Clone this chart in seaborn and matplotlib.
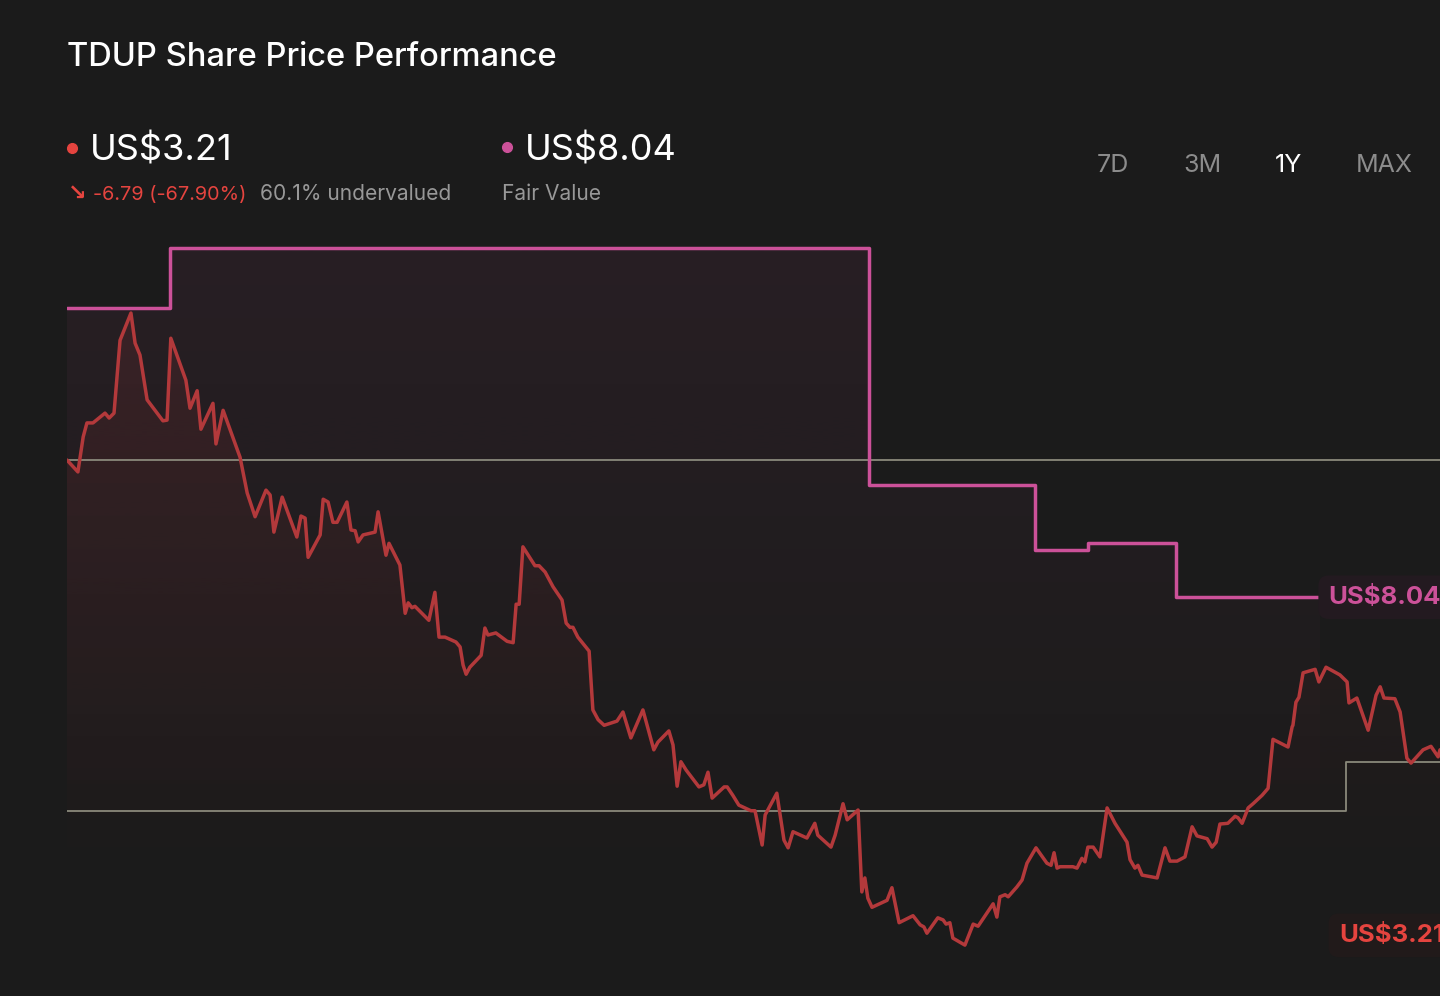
import numpy as np
import matplotlib
matplotlib.use("Agg")
import matplotlib.pyplot as plt
from matplotlib.lines import Line2D
import seaborn as sns
import pandas as pd

# ---------------- data ----------------
days = [0, 2.9, 4.3, 5.3, 6.9, 10.1, 11.2, 12.5, 14.1, 17.0, 18.1, 19.4, 21.3, 25.5, 26.6, 27.6,
        31.6, 32.7, 34.6, 35.6, 38.8, 39.6, 41.5, 46.0, 47.9, 50.0, 52.9, 54.0, 55.0, 57.2, 61.1,
        62.2, 63.3, 64.1, 67.3, 68.1, 69.4, 70.7, 71.8, 74.4, 75.5, 76.6, 77.4, 78.7, 81.9, 82.7,
        84.8, 85.6, 88.5, 89.9, 90.7, 91.7, 92.5, 96.2, 97.8, 98.9, 100.5, 103.4, 104.5, 105.3,
        106.1, 107.1, 110.1, 111.1, 111.9, 114.0, 117.0, 118.6, 119.4, 120.2, 121.2, 124.4, 125.5,
        127.1, 129.2, 131.6, 132.7, 133.7, 134.5, 135.8, 138.8, 139.8, 141.2, 142.8, 146.2, 147.8,
        149.9, 153.1, 156.0, 157.1, 160.0, 161.1, 162.2, 163.2, 164.6, 168.0, 169.3, 170.4, 171.5,
        174.7, 175.5, 177.0, 178.6, 181.8, 182.9, 184.8, 185.6, 188.7, 190.6, 191.7, 193.0, 196.7,
        198.8, 199.6, 203.1, 204.2, 206.3, 207.4, 210.3, 211.3, 212.1, 212.9, 214.0, 218.0, 219.3,
        221.2, 224.9, 226.8, 227.8, 228.6, 231.5, 232.9, 233.7, 234.7, 235.5, 238.7, 240.9, 242.2,
        246.2, 247.2, 248.0, 249.4, 250.2, 252.5, 253.9, 255.2, 257.6, 260.5, 261.6, 262.4, 263.2,
        264.0, 267.4, 268.5, 269.8, 270.6, 271.4, 272.8, 274.6, 276.5, 278.6, 281.8, 282.6, 283.9,
        284.7, 285.8, 289.8, 291.9, 293.2, 295.1, 297.2, 299.1, 300.4, 303.1, 304.4, 305.5, 306.5,
        308.6, 310.5, 311.3, 312.4, 314.0, 315.3, 317.7, 319.3, 320.6, 324.6, 325.7, 325.9, 326.7,
        327.5, 328.6, 331.8, 332.8, 334.7, 338.4, 340.3, 340.8, 342.9, 345.9, 348.0, 349.1, 350.1,
        353.0, 354.4, 356.2, 357.3, 360.5, 362.6, 364.5, 365.0]
price = [10.00, 9.83, 10.33, 10.53, 10.53, 10.67, 10.60, 10.67, 11.71, 12.10, 11.67, 11.50, 10.86,
         10.56, 10.57, 11.74, 11.14, 10.74, 10.99, 10.44, 10.81, 10.23, 10.71, 10.04, 9.53, 9.19,
         9.57, 9.50, 8.97, 9.47, 8.90, 9.20, 9.17, 8.61, 8.93, 9.44, 9.40, 9.11, 9.11, 9.40, 9.00,
         8.99, 8.83, 8.93, 8.97, 9.26, 8.64, 8.81, 8.50, 7.81, 7.96, 7.89, 7.91, 7.71, 8.11, 7.47,
         7.47, 7.40, 7.33, 7.07, 6.94, 7.04, 7.21, 7.60, 7.50, 7.53, 7.41, 7.39, 7.94, 7.94, 8.76,
         8.49, 8.49, 8.40, 8.19, 8.00, 7.67, 7.61, 7.61, 7.47, 7.27, 6.43, 6.29, 6.21, 6.27, 6.40,
         6.03, 6.43, 5.86, 5.97, 6.13, 5.93, 5.34, 5.69, 5.57, 5.33, 5.36, 5.54, 5.17, 5.33, 5.33,
         5.21, 5.07, 4.99, 4.99, 4.50, 4.93, 5.24, 4.57, 4.46, 4.69, 4.60, 4.81, 4.64, 4.47, 4.64,
         5.09, 4.86, 5.00, 3.83, 4.03, 3.74, 3.61, 3.71, 3.89, 3.39, 3.49, 3.36, 3.33, 3.24, 3.46,
         3.43, 3.37, 3.39, 3.17, 3.07, 3.37, 3.34, 3.66, 3.47, 3.76, 3.79, 3.76, 3.90, 4.00, 4.24,
         4.46, 4.24, 4.21, 4.39, 4.17, 4.19, 4.19, 4.17, 4.31, 4.26, 4.47, 4.47, 4.33, 5.03, 4.81,
         4.54, 4.29, 4.17, 4.21, 4.07, 4.03, 4.46, 4.27, 4.27, 4.33, 4.76, 4.63, 4.59, 4.47, 4.54,
         4.80, 4.81, 4.91, 4.89, 4.81, 5.03, 5.09, 5.21, 5.31, 6.01, 5.90, 6.19, 6.21, 6.54, 6.61,
         6.96, 7.01, 6.83, 7.04, 6.93, 6.83, 6.53, 6.60, 6.14, 6.64, 6.76, 6.60, 6.59, 6.40, 5.74,
         5.67, 5.86, 5.91, 5.76, 5.86]

fv_days = [0, 27.4, 213.2, 257.3, 271.4, 294.8, 333.1]
fv_values = [12.17, 13.03, 9.64, 8.71, 8.81, 8.04, 8.04]

upper_ref_days = [0, 365]
upper_ref = [10.00, 10.00]
lower_ref_days = [0, 339.9, 365]
lower_ref = [4.99, 5.69, 5.69]

ticker = "TDUP"
last_price = 3.21
fair_value = 8.04
change = -6.79
change_pct = -67.90
undervalued_pct = 60.1
periods = ["7D", "3M", "1Y", "MAX"]
active_period = "1Y"

# ---------------- style ----------------
BG = "#1b1b1b"
RED_LINE = "#b3393b"
RED_TEXT = "#e5443f"
PINK = "#cc5199"
GRAY_LINE = "#8a897b"
GRAY_TEXT = "#989898"

sns.set_theme(style="dark", rc={"axes.facecolor": BG, "figure.facecolor": BG})
plt.rcParams["font.family"] = ["Inter", "DejaVu Sans"]

W, H = 1440, 996
fig = plt.figure(figsize=(W / 100, H / 100), dpi=100)
fig.patch.set_facecolor(BG)

def fx(px):
    return px / W

def fy(py):
    return 1 - py / H

# axes: from x=67px to right edge, from y=220px to bottom
ax = fig.add_axes([fx(67), 0, 1 - fx(67), fy(220)])
ax.set_facecolor("none")
YLO, YHI = 2.343, 13.429
ax.set_xlim(0, 365)
ax.set_ylim(YLO, YHI)
ax.axis("off")

df = pd.DataFrame({"day": days, "price": price})
fv = pd.DataFrame({"day": fv_days, "fv": fv_values})

# gradient fills
def gradient_under(coll, color, a_top, v_top, v_bot, z):
    rgb = matplotlib.colors.to_rgb(color)
    n = 256
    alpha = np.linspace(a_top, 0, n).reshape(-1, 1)
    img = np.zeros((n, 1, 4))
    img[:, :, 0] = rgb[0]
    img[:, :, 1] = rgb[1]
    img[:, :, 2] = rgb[2]
    img[:, :, 3] = alpha
    im = ax.imshow(img, extent=[0, 365, v_bot, v_top], aspect="auto", origin="upper", zorder=z,
                   interpolation="bilinear")
    im.set_clip_path(coll.get_paths()[0], transform=ax.transData)
    coll.remove()

c1 = ax.fill_between(fv_days, fv_values, YLO, step="post", facecolor="none", edgecolor="none")
gradient_under(c1, PINK, 0.075, 13.03, 4.0, 1)
c2 = ax.fill_between(days, price, YLO, facecolor="none", edgecolor="none")
gradient_under(c2, RED_LINE, 0.14, 12.1, 4.0, 1.5)
ax.set_xlim(0, 365)
ax.set_ylim(YLO, YHI)

# reference lines
ax.plot(upper_ref_days, upper_ref, color=GRAY_LINE, lw=1.3, zorder=2)
ax.plot(lower_ref_days, lower_ref, color=GRAY_LINE, lw=1.3, drawstyle="steps-post", zorder=2)

# fair value step line and price line
sns.lineplot(data=fv, x="day", y="fv", ax=ax, color=PINK, lw=2.5, drawstyle="steps-post",
             zorder=3, legend=False)
sns.lineplot(data=df, x="day", y="price", ax=ax, color=RED_LINE, lw=2.5, sort=False,
             zorder=4, legend=False)
ax.axis("off")

# end labels (cut by the right edge, as in the reference)
ax.text(335.4, fair_value, f"US${fair_value:.2f}", color=PINK, fontsize=18.5, fontweight="bold",
        va="center", ha="left", zorder=6,
        bbox=dict(boxstyle="round,pad=0.4", fc="#231a20", ec="none"))
ax.text(338.1, last_price, f"US${last_price:.2f}", color=RED_TEXT, fontsize=18.5, fontweight="bold",
        va="center", ha="left", zorder=6,
        bbox=dict(boxstyle="round,pad=0.4", fc="#211a1a", ec="none"))

# header
fig.text(fx(67), fy(66), f"{ticker} Share Price Performance", color="white", fontsize=23.5,
         fontweight="medium", ha="left", va="baseline")

fig.add_artist(Line2D([fx(72)], [fy(148)], marker="o", markersize=7, color=RED_TEXT,
                      transform=fig.transFigure))
fig.text(fx(90), fy(161), f"US${last_price:.2f}", color="white", fontsize=26, ha="left", va="baseline")
fig.add_artist(Line2D([fx(507)], [fy(147)], marker="o", markersize=7, color=PINK,
                      transform=fig.transFigure))
fig.text(fx(525), fy(161), f"US${fair_value:.2f}", color="white", fontsize=26, ha="left", va="baseline")

fig.text(fx(68), fy(200), "\u2198", color=RED_TEXT, fontsize=16, fontweight="bold",
         family="DejaVu Sans", ha="left", va="baseline")
fig.text(fx(93), fy(200), f"{change:.2f} ({change_pct:.2f}%)", color=RED_TEXT, fontsize=14.3,
         ha="left", va="baseline")
fig.text(fx(260), fy(200), f"{undervalued_pct:.1f}% undervalued", color=GRAY_TEXT, fontsize=15.1,
         ha="left", va="baseline")
fig.text(fx(502), fy(200), "Fair Value", color=GRAY_TEXT, fontsize=15.1, ha="left", va="baseline")

tab_x = [1113, 1202, 1289, 1384]
for p, px in zip(periods, tab_x):
    fig.text(fx(px), fy(166), p, color="white" if p == active_period else "#8c8c8c",
             fontsize=18, ha="center", va="center")

fig.savefig("out.png", dpi=100, facecolor=BG)
